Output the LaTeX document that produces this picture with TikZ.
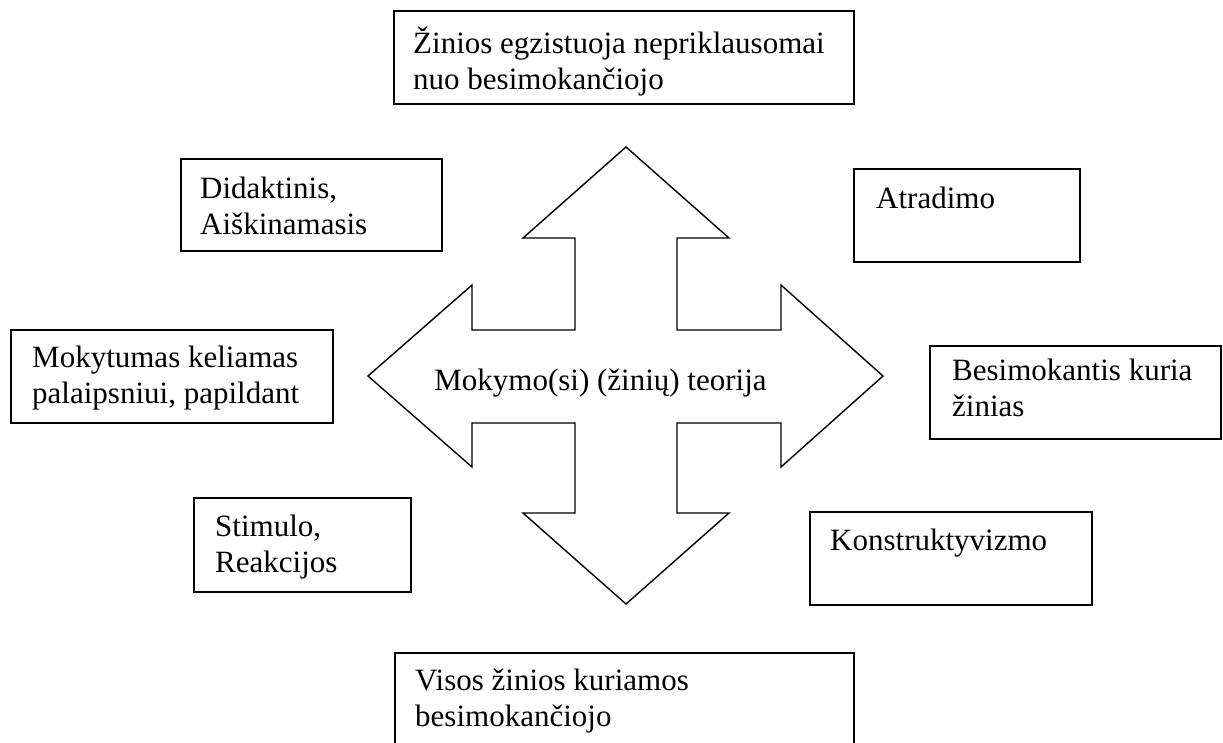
\documentclass[tikz,border=0pt]{standalone}
\usepackage{fontspec}
\setmainfont{Liberation Serif}
\usepackage{tikz}
\tikzset{
	boxline/.style={line width=1.6pt},
	boxtext/.style={anchor=base west, inner sep=0pt, align=left, font=\fontsize{31}{36}\selectfont}
}

\begin{document}
\begin{tikzpicture}[x=1pt, y=-1pt]
			%%%%% START %%%%%
			\useasboundingbox (0, 0) rectangle (1223, 742);
			
			% keturkryptė rodyklė
			\draw[line width=1.4pt, line join=miter] (626, 147) -- (729, 238) -- (677, 238) -- (677, 330) -- (781, 330) -- (781, 285) -- (883, 376) -- (781, 467) -- (781, 423) -- (677, 423) -- (677, 513) -- (729, 513) -- (626, 604) -- (523, 513) -- (575, 513) -- (575, 423) -- (472, 423) -- (472, 467) -- (368, 376) -- (472, 285) -- (472, 330) -- (575, 330) -- (575, 238) -- (523, 238) -- cycle;
			\node[boxtext, anchor=base] (teorija) at (600.5, 390) {Mokymo(si) (žinių) teorija};
			
			% viršus ir apačia (bazinė linija = paskutinė eilutė)
			\draw[boxline] (394, 11) rectangle (854, 104);
			\node[boxtext] (nepriklausomai) at (413, 89) {Žinios egzistuoja nepriklausomai\\nuo besimokančiojo};
			
			\draw[boxline] (395, 745) -- (395, 653) -- (854, 653) -- (854, 745);
			\node[boxtext] (kuriamos) at (415, 726) {Visos žinios kuriamos\\besimokančiojo};
			
			% kairė pusė
			\draw[boxline] (181, 159) rectangle (442, 251);
			\node[boxtext] (didaktinis) at (200, 234) {Didaktinis,\\Aiškinamasis};
			
			\draw[boxline] (11, 330) rectangle (333, 423);
			\node[boxtext] (mokytumas) at (32, 403) {Mokytumas keliamas\\palaipsniui, papildant};
			
			\draw[boxline] (194, 498) rectangle (411, 592);
			\node[boxtext] (stimulo) at (215, 572) {Stimulo,\\Reakcijos};
			
			% dešinė pusė
			\draw[boxline] (854, 169) rectangle (1080, 262);
			\node[boxtext] (atradimo) at (876, 208) {Atradimo};
			
			\draw[boxline] (930, 346) rectangle (1221, 439);
			\node[boxtext] (besimokantis) at (952, 416) {Besimokantis kuria\\žinias};
			
			\draw[boxline] (810, 512) rectangle (1092, 605);
			\node[boxtext] (konstruktyvizmo) at (830, 550) {Konstruktyvizmo};
			%%%%% END %%%%%
\end{tikzpicture}
\end{document}
